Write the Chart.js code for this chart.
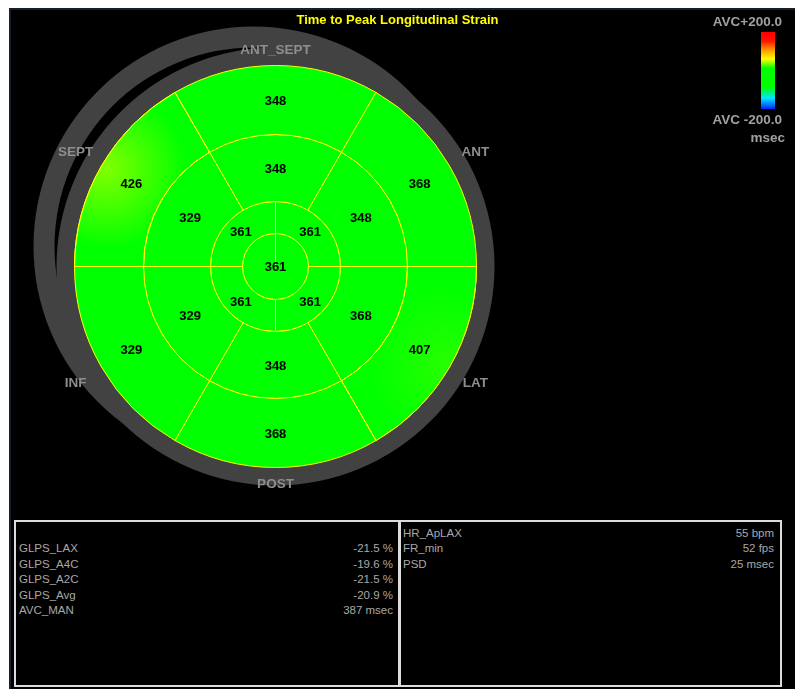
<!DOCTYPE html>
<html>
<head>
<meta charset="utf-8">
<script src="https://cdn.jsdelivr.net/npm/chart.js@4.4.1/dist/chart.umd.min.js"></script>
<style>
  body { margin: 0; background: #fff; width: 795px; height: 689px; overflow: hidden; font-family: "Liberation Sans", Arial, sans-serif; }
  #stage { position: absolute; left: 9px; top: 8px; width: 786px; height: 681px; background: #000; border-top: 2px solid #16202b; border-left: 2px solid #16202b; box-sizing: border-box; }
  #bullseye { position: absolute; left: 0; top: 0; }
  .title { position: absolute; left: 0; width: 795px; top: 12px; text-align: center; color: #ffff00; font-weight: bold; font-size: 13px; }
  .scale-txt { position: absolute; right: 13px; color: #a0a0a0; font-weight: bold; font-size: 13.5px; text-align: right; }
  #colorbar { position: absolute; left: 761px; top: 32px; width: 14px; height: 77px; }
  .panel { position: absolute; top: 520px; height: 167px; border: 2px solid #dcdcdc; box-sizing: border-box; padding: 4px 6px 0 3px; color: #a8a8a8; font-size: 11.5px; }
  .row { display: flex; justify-content: space-between; height: 15.4px; line-height: 15.4px; }
</style>
</head>
<body>
<div id="stage"></div>
<canvas id="bullseye" width="795" height="510"></canvas>
<div class="title">Time to Peak Longitudinal Strain</div>
<div class="scale-txt" style="top: 14px;">AVC+200.0</div>
<div id="colorbar"></div>
<div class="scale-txt" style="top: 112px;">AVC -200.0</div>
<div class="scale-txt" style="top: 130px; right: 10px;">msec</div>
<div class="panel" id="panelLeft" style="left: 14px; width: 387px;"></div>
<div class="panel" id="panelRight" style="left: 398px; width: 384px;"></div>

<script>
// segment values, msec, clockwise from the top segment of each ring
const basalValues = [348, 368, 407, 368, 329, 426];
const midValues = [348, 348, 368, 348, 329, 329];
const apicalValues = [361, 361, 361, 361];
const apexValues = [361];
const wallLabels = ['ANT_SEPT', 'ANT', 'LAT', 'POST', 'INF', 'SEPT'];

const avcTime = 387;
const colorSpan = 200;

const leftRows = [
  ['', ''],
  ['GLPS_LAX', '-21.5 %'],
  ['GLPS_A4C', '-19.6 %'],
  ['GLPS_A2C', '-21.5 %'],
  ['GLPS_Avg', '-20.9 %'],
  ['AVC_MAN', '387 msec']
];
const rightRows = [
  ['HR_ApLAX', '55 bpm'],
  ['FR_min', '52 fps'],
  ['PSD', '25 msec']
];

// colour scale, top (+200) to bottom (-200)
const scaleStops = [
  [0.00, [255, 0, 0]],
  [0.12, [255, 20, 0]],
  [0.22, [255, 140, 0]],
  [0.35, [255, 255, 0]],
  [0.47, [0, 255, 0]],
  [0.72, [0, 255, 0]],
  [0.86, [0, 230, 255]],
  [1.00, [0, 40, 255]]
];

const GREEN = '#00ff00';
const BORDER = '#ffff00';
const RING_GREY = '#424242';
const WALL_GREY = '#8e8e8e';

document.getElementById('colorbar').style.background =
  'linear-gradient(to bottom, ' +
  scaleStops.map(([p, c]) => `rgb(${c.join(',')}) ${p * 100}%`).join(', ') + ')';

function fillPanel(id, rows) {
  document.getElementById(id).innerHTML = rows
    .map(([k, v]) => `<div class="row"><span>${k}</span><span>${v}</span></div>`)
    .join('');
}
fillPanel('panelLeft', leftRows);
fillPanel('panelRight', rightRows);

function scaleColor(value) {
  const t = Math.min(Math.max((value - avcTime) / colorSpan, -1), 1);
  const pos = (1 - t) / 2;
  for (let i = 1; i < scaleStops.length; i++) {
    const [p1, c1] = scaleStops[i];
    const [p0, c0] = scaleStops[i - 1];
    if (pos <= p1) {
      const f = (pos - p0) / (p1 - p0);
      return c0.map((v, k) => Math.round(v + (c1[k] - v) * f));
    }
  }
  return scaleStops[scaleStops.length - 1][1];
}

const ringValues = [basalValues, midValues, apicalValues, apexValues];

function arcPath(ctx, a) {
  ctx.beginPath();
  ctx.arc(a.x, a.y, a.outerRadius, a.startAngle, a.endAngle);
  if (a.innerRadius > 0.5) ctx.arc(a.x, a.y, a.innerRadius, a.endAngle, a.startAngle, true);
  else ctx.lineTo(a.x, a.y);
  ctx.closePath();
}

const bullseyePlugin = {
  id: 'bullseye',
  beforeDatasetsDraw(chart) {
    const ctx = chart.ctx;
    const { x, y, outerRadius: R } = chart.getDatasetMeta(0).data[0].getProps(['x', 'y', 'outerRadius'], true);
    ctx.save();
    ctx.fillStyle = RING_GREY;
    // outer band, shifted up and left
    ctx.beginPath();
    ctx.arc(x - 22, y - 20, R + 19, 0, Math.PI * 2);
    ctx.arc(x - 22, y - 20, R - 2, 0, Math.PI * 2, true);
    ctx.fill();
    // band hugging the plot
    ctx.beginPath();
    ctx.arc(x, y, R + 18, 0, Math.PI * 2);
    ctx.fill();
    ctx.restore();
  },
  afterDatasetsDraw(chart) {
    const ctx = chart.ctx;
    ctx.save();

    // late-peaking segments glow toward the rim
    chart.getDatasetMeta(0).data.forEach((arc, i) => {
      const rgb = scaleColor(basalValues[i]);
      if (rgb[0] === 0) return;
      const a = arc.getProps(['x', 'y', 'startAngle', 'endAngle', 'innerRadius', 'outerRadius'], true);
      const mid = (a.startAngle + a.endAngle) / 2;
      const gx = a.x + Math.cos(mid) * (a.outerRadius - 6);
      const gy = a.y + Math.sin(mid) * (a.outerRadius - 6);
      const grad = ctx.createRadialGradient(gx, gy, 0, gx, gy, 80);
      grad.addColorStop(0, `rgba(${rgb.join(',')},0.9)`);
      grad.addColorStop(0.45, `rgba(${rgb.join(',')},0.5)`);
      grad.addColorStop(1, `rgba(${rgb.join(',')},0)`);
      ctx.save();
      arcPath(ctx, a);
      ctx.clip();
      ctx.fillStyle = grad;
      ctx.fillRect(gx - 90, gy - 90, 180, 180);
      ctx.restore();
      arcPath(ctx, a);
      ctx.strokeStyle = BORDER;
      ctx.lineWidth = 1;
      ctx.stroke();
    });

    // segment values
    ctx.font = 'bold 13px "Liberation Sans", Arial, sans-serif';
    ctx.fillStyle = '#000';
    ctx.textAlign = 'center';
    ctx.textBaseline = 'middle';
    ringValues.forEach((values, d) => {
      chart.getDatasetMeta(d).data.forEach((arc, i) => {
        const a = arc.getProps(['x', 'y', 'innerRadius'], true);
        const p = a.innerRadius < 1 ? { x: a.x, y: a.y } : arc.getCenterPoint();
        ctx.fillText(String(values[i]), p.x, p.y + 1);
      });
    });

    // wall names around the plot
    const { x, y, outerRadius: R } = chart.getDatasetMeta(0).data[0].getProps(['x', 'y', 'outerRadius'], true);
    ctx.font = 'bold 13.5px "Liberation Sans", Arial, sans-serif';
    ctx.fillStyle = WALL_GREY;
    wallLabels.forEach((name, i) => {
      const ang = i * Math.PI / 3;
      const r = R + 16 + 16 * Math.abs(Math.sin(ang));
      ctx.fillText(name, x + Math.sin(ang) * r, y - Math.cos(ang) * r + 1);
    });
    ctx.restore();
  }
};

new Chart(document.getElementById('bullseye'), {
  type: 'pie',
  data: {
    datasets: [
      { data: basalValues.map(() => 1), rotation: -30, weight: 69 },
      { data: midValues.map(() => 1), rotation: -30, weight: 67 },
      { data: apicalValues.map(() => 1), rotation: 0, weight: 32 },
      { data: apexValues.map(() => 1), rotation: 0, weight: 33 }
    ].map(ds => ({ ...ds, backgroundColor: GREEN, borderColor: BORDER, borderWidth: 1 }))
  },
  options: {
    responsive: false,
    animation: false,
    layout: { padding: { left: 74, top: 65, right: 318, bottom: 42 } },
    plugins: {
      legend: { display: false },
      tooltip: { enabled: false }
    },
    events: []
  },
  plugins: [bullseyePlugin]
});
</script>
</body>
</html>
